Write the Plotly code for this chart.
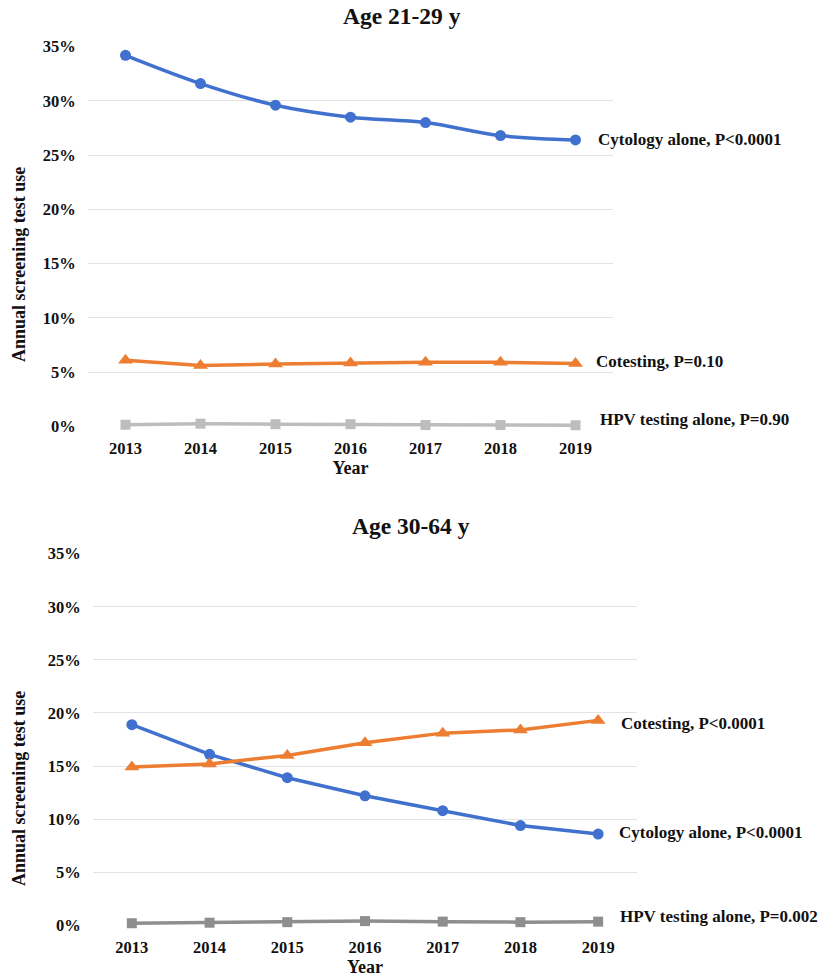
import plotly.graph_objects as go

# Annual cervical cancer screening test use by test type, 2013-2019
years = [2013, 2014, 2015, 2016, 2017, 2018, 2019]

# Age 21-29 y (percent)
young_cytology = [34.2, 31.6, 29.6, 28.5, 28.0, 26.8, 26.4]
young_cotesting = [6.1, 5.6, 5.75, 5.85, 5.9, 5.9, 5.8]
young_hpv = [0.15, 0.25, 0.2, 0.2, 0.12, 0.12, 0.1]

# Age 30-64 y (percent)
older_cytology = [18.9, 16.1, 13.9, 12.2, 10.8, 9.4, 8.6]
older_cotesting = [14.9, 15.2, 16.0, 17.2, 18.1, 18.4, 19.3]
older_hpv = [0.2, 0.25, 0.3, 0.4, 0.35, 0.3, 0.35]

panel_titles = ["Age 21-29 y", "Age 30-64 y"]
young_labels = ["Cytology alone, P<0.0001", "Cotesting, P=0.10", "HPV testing alone, P=0.90"]
older_labels = ["Cytology alone, P<0.0001", "Cotesting, P<0.0001", "HPV testing alone, P=0.002"]
y_ticks = [0, 5, 10, 15, 20, 25, 30, 35]
y_tick_text = [f"<b>{v}%</b>" for v in y_ticks]
x_tick_text = [f"<b>{y}</b>" for y in years]

BLUE = "#4171CF"
ORANGE = "#ED7D31"
GRAY_LIGHT = "#BDBDBD"
GRAY_DARK = "#8E8E8E"
FONT = "Liberation Serif"
TXT = "#111111"

W, H = 823, 979

fig = go.Figure()


def add_series(vals, color, symbol, size, xa, ya, shape="linear"):
    fig.add_trace(go.Scatter(
        x=years, y=vals, mode="lines+markers",
        line=dict(color=color, width=3.5, shape=shape),
        marker=dict(color=color, symbol=symbol, size=size),
        xaxis=xa, yaxis=ya, showlegend=False, cliponaxis=False,
    ))


# top panel
add_series(young_hpv, GRAY_LIGHT, "square", 10, "x", "y")
add_series(young_cotesting, ORANGE, "triangle-up", 13, "x", "y")
add_series(young_cytology, BLUE, "circle", 11, "x", "y", shape="spline")
# bottom panel
add_series(older_hpv, GRAY_DARK, "square", 10, "x2", "y2")
add_series(older_cytology, BLUE, "circle", 11, "x2", "y2")
add_series(older_cotesting, ORANGE, "triangle-up", 13, "x2", "y2")


def px_x(p):
    return p / W


def px_y(p):
    return 1 - p / H


tick_font = dict(family=FONT, size=16.5, color=TXT)
grid = "#E3E3E3"

yaxis_common = dict(
    range=[-0.06, 35.06], tickmode="array", tickvals=y_ticks, ticktext=y_tick_text,
    showgrid=True, gridcolor=grid, gridwidth=1.2, zeroline=False, showline=False,
    ticks="outside", ticklen=8, tickcolor="rgba(0,0,0,0)", tickfont=tick_font,
    fixedrange=True, automargin=False,
)
xaxis_common = dict(
    range=[2012.5, 2019.5], tickmode="array", tickvals=years, ticktext=x_tick_text,
    showgrid=False, zeroline=False, showline=False,
    ticks="outside", ticklen=6, tickcolor="rgba(0,0,0,0)", tickfont=tick_font,
    title=dict(text="<b>Year</b>", font=dict(family=FONT, size=18, color=TXT), standoff=4),
    fixedrange=True, automargin=False,
)

fig.update_layout(
    width=W, height=H, margin=dict(l=0, r=0, t=0, b=0, autoexpand=False),
    paper_bgcolor="white", plot_bgcolor="white",
    font=dict(family=FONT, color=TXT),
    xaxis=dict(domain=[px_x(88), px_x(613)], anchor="y", **xaxis_common),
    yaxis=dict(domain=[px_y(427), px_y(46)], anchor="x", **yaxis_common),
    xaxis2=dict(domain=[px_x(93), px_x(637)], anchor="y2", **xaxis_common),
    yaxis2=dict(domain=[px_y(926), px_y(553)], anchor="x2", **yaxis_common),
)

annotations = []

# panel titles
for title, tx, ty in zip(panel_titles, [402, 411], [16, 526]):
    annotations.append(dict(
        text=f"<b>{title}</b>", xref="paper", yref="paper", x=px_x(tx), y=px_y(ty),
        xanchor="center", yanchor="middle", showarrow=False,
        font=dict(family=FONT, size=23.5, color=TXT),
    ))

# y-axis titles
for cy in [265, 789]:
    annotations.append(dict(
        text="<b>Annual screening test use</b>", xref="paper", yref="paper",
        x=px_x(19), y=px_y(cy), xanchor="center", yanchor="middle", textangle=-90,
        showarrow=False, font=dict(family=FONT, size=18, color=TXT),
    ))

# series labels beside the last point
label_font = dict(family=FONT, size=17, color=TXT)
top_series = [young_cytology, young_cotesting, young_hpv]
top_shifts = [(20, 0), (18, 2), (22, 6)]
for lab, vals, (dx, dy) in zip(young_labels, top_series, top_shifts):
    annotations.append(dict(
        text=f"<b>{lab}</b>", x=years[-1], y=vals[-1], xref="x", yref="y",
        xanchor="left", yanchor="middle", xshift=dx, yshift=dy, showarrow=False,
        font=label_font,
    ))

bottom_series = [older_cytology, older_cotesting, older_hpv]
bottom_shifts = [(19, 2), (21, -3), (20, 5)]
for lab, vals, (dx, dy) in zip(older_labels, bottom_series, bottom_shifts):
    annotations.append(dict(
        text=f"<b>{lab}</b>", x=years[-1], y=vals[-1], xref="x2", yref="y2",
        xanchor="left", yanchor="middle", xshift=dx, yshift=dy, showarrow=False,
        font=label_font,
    ))

fig.update_layout(annotations=annotations)

fig.write_html("out.html")
